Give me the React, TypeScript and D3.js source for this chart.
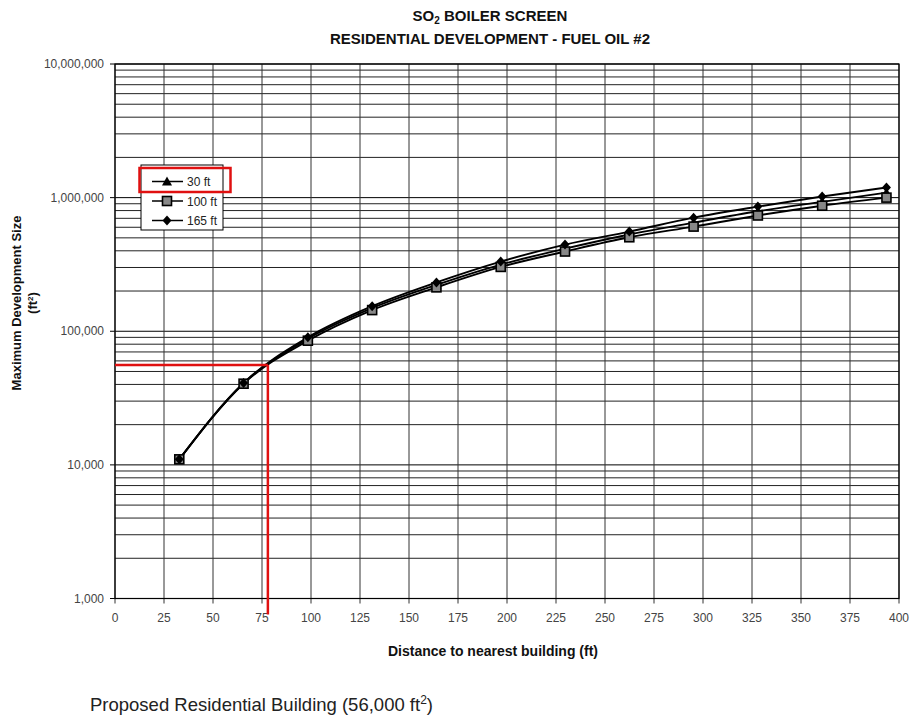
import React from "react";
import * as d3 from "d3";

// distances in ft (10 m steps), sizes in ft2
const distances = [32.8, 65.6, 98.4, 131.2, 164, 196.8, 229.6, 262.4, 295.2, 328, 360.8, 393.6];
const stack30 = [11000, 40800, 88000, 149000, 222000, 315000, 415000, 530000, 650000, 790000, 930000, 1090000];
const stack100 = [11000, 40500, 85000, 144000, 213000, 303000, 395000, 505000, 607000, 735000, 870000, 1000000];
const stack165 = [11000, 41000, 90000, 154000, 232000, 332000, 445000, 557000, 708000, 857000, 1020000, 1190000];
const seriesNames = ["30 ft", "100 ft", "165 ft"];
const xTicks = [0, 25, 50, 75, 100, 125, 150, 175, 200, 225, 250, 275, 300, 325, 350, 375, 400];
const yTicks = [1000, 10000, 100000, 1000000, 10000000];
const proposedSize = 56000;
const proposedDistance = 78;

const FONT = "Liberation Sans, Arial, sans-serif";

export default function App() {
    const left = 115, right = 899, top = 64, bottom = 598.5;

    const x = d3.scaleLinear().domain([0, 400]).range([left, right]);
    const y = d3.scaleLog().domain([1000, 10000000]).range([bottom, top]);

    // minor grid lines 2..9 in every decade
    const minor: number[] = [];
    for (let e = 3; e < 7; e++) {
        for (let m = 2; m <= 9; m++) minor.push(m * Math.pow(10, e));
    }

    const series = [stack30, stack100, stack165].map((vals, i) => ({
        name: seriesNames[i],
        points: distances.map((d, j) => [d, vals[j]] as [number, number]),
    }));

    const line = d3
        .line<[number, number]>()
        .x((d) => x(d[0]))
        .y((d) => y(d[1]))
        .curve(d3.curveMonotoneX);

    const fmt = d3.format(",");

    function marker(kind: number, cx: number, cy: number, key: string) {
        if (kind === 0) {
            return (
                <path key={key} d={`M${cx},${cy - 5}L${cx + 5},${cy + 4}L${cx - 5},${cy + 4}Z`} fill="#000" />
            );
        }
        if (kind === 1) {
            return (
                <rect key={key} x={cx - 4.5} y={cy - 4.5} width={9} height={9} fill="#888" stroke="#000" strokeWidth={1.6} />
            );
        }
        return (
            <path key={key} d={`M${cx},${cy - 5}L${cx + 4.5},${cy}L${cx},${cy + 5}L${cx - 4.5},${cy}Z`} fill="#000" />
        );
    }

    return (
        <svg
            width={914}
            height={715}
            style={{ position: "absolute", left: 0, top: 0, background: "#fff" }}
            fontFamily={FONT}
        >
            {/* title */}
            <text x={490} y={21} textAnchor="middle" fontSize={15} fontWeight="bold" fill="#111">
                SO<tspan fontSize={10} dy={3}>2</tspan>
                <tspan dy={-3}> BOILER SCREEN</tspan>
            </text>
            <text x={490} y={44} textAnchor="middle" fontSize={15} fontWeight="bold" fill="#111">
                RESIDENTIAL DEVELOPMENT - FUEL OIL #2
            </text>

            {/* horizontal grid */}
            {minor.map((v) => (
                <line key={"m" + v} x1={left} x2={right} y1={y(v)} y2={y(v)} stroke="#222" strokeWidth={1} />
            ))}
            {yTicks.map((v) => (
                <line key={"M" + v} x1={left - 5} x2={right} y1={y(v)} y2={y(v)} stroke="#000" strokeWidth={1} />
            ))}
            {/* vertical grid */}
            {xTicks.map((v) => (
                <line key={"x" + v} x1={x(v)} x2={x(v)} y1={top} y2={bottom + 5} stroke="#333" strokeWidth={1} />
            ))}
            <rect x={left} y={top} width={right - left} height={bottom - top} fill="none" stroke="#000" strokeWidth={1.2} />

            {/* tick labels */}
            {yTicks.map((v) => (
                <text key={"yl" + v} x={104} y={y(v) + 4} textAnchor="end" fontSize={12} fill="#444">
                    {fmt(v)}
                </text>
            ))}
            {xTicks.map((v) => (
                <text key={"xl" + v} x={x(v)} y={bottom + 23} textAnchor="middle" fontSize={12} fill="#444">
                    {v}
                </text>
            ))}

            {/* axis titles */}
            <text x={493} y={656} textAnchor="middle" fontSize={14} fontWeight="bold" fill="#111">
                Distance to nearest building (ft)
            </text>
            <text transform="translate(21,303) rotate(-90)" textAnchor="middle" fontSize={13} fontWeight="bold" fill="#111">
                Maximum Development Size
            </text>
            <text transform="translate(37,303) rotate(-90)" textAnchor="middle" fontSize={13} fontWeight="bold" fill="#111">
                (ft<tspan fontSize={8} dy={-4}>2</tspan>
                <tspan dy={4}>)</tspan>
            </text>

            {/* series */}
            {series.map((s, i) => (
                <path key={"l" + i} d={line(s.points) || ""} fill="none" stroke="#000" strokeWidth={1.9} />
            ))}
            {series.map((s, i) =>
                s.points.map((p, j) => marker(i, x(p[0]), y(p[1]), `mk${i}-${j}`))
            )}

            {/* proposed building reference lines */}
            <line x1={left} x2={x(proposedDistance)} y1={y(proposedSize)} y2={y(proposedSize)} stroke="#e01010" strokeWidth={2.5} />
            <line x1={x(proposedDistance)} x2={x(proposedDistance)} y1={y(proposedSize)} y2={bottom + 16} stroke="#e01010" strokeWidth={2.5} />

            {/* legend */}
            <rect x={141} y={165} width={82} height={65} fill="#fff" stroke="#000" strokeWidth={1} />
            {seriesNames.map((n, i) => {
                const ly = 181.5 + i * 19.5;
                return (
                    <g key={"lg" + i}>
                        <line x1={152} x2={183} y1={ly} y2={ly} stroke="#000" strokeWidth={1.5} />
                        {marker(i, 167, ly, "lgm" + i)}
                        <text x={187} y={ly + 4.5} fontSize={12} fill="#222">
                            {n}
                        </text>
                    </g>
                );
            })}
            <rect x={139.5} y={168} width={91} height={24} fill="none" stroke="#e01010" strokeWidth={2.5} />

            {/* caption */}
            <text x={90} y={711} fontSize={18.5} fill="#222">
                Proposed Residential Building (56,000 ft<tspan fontSize={12} dy={-7}>2</tspan>
                <tspan dy={7}>)</tspan>
            </text>
        </svg>
    );
}
